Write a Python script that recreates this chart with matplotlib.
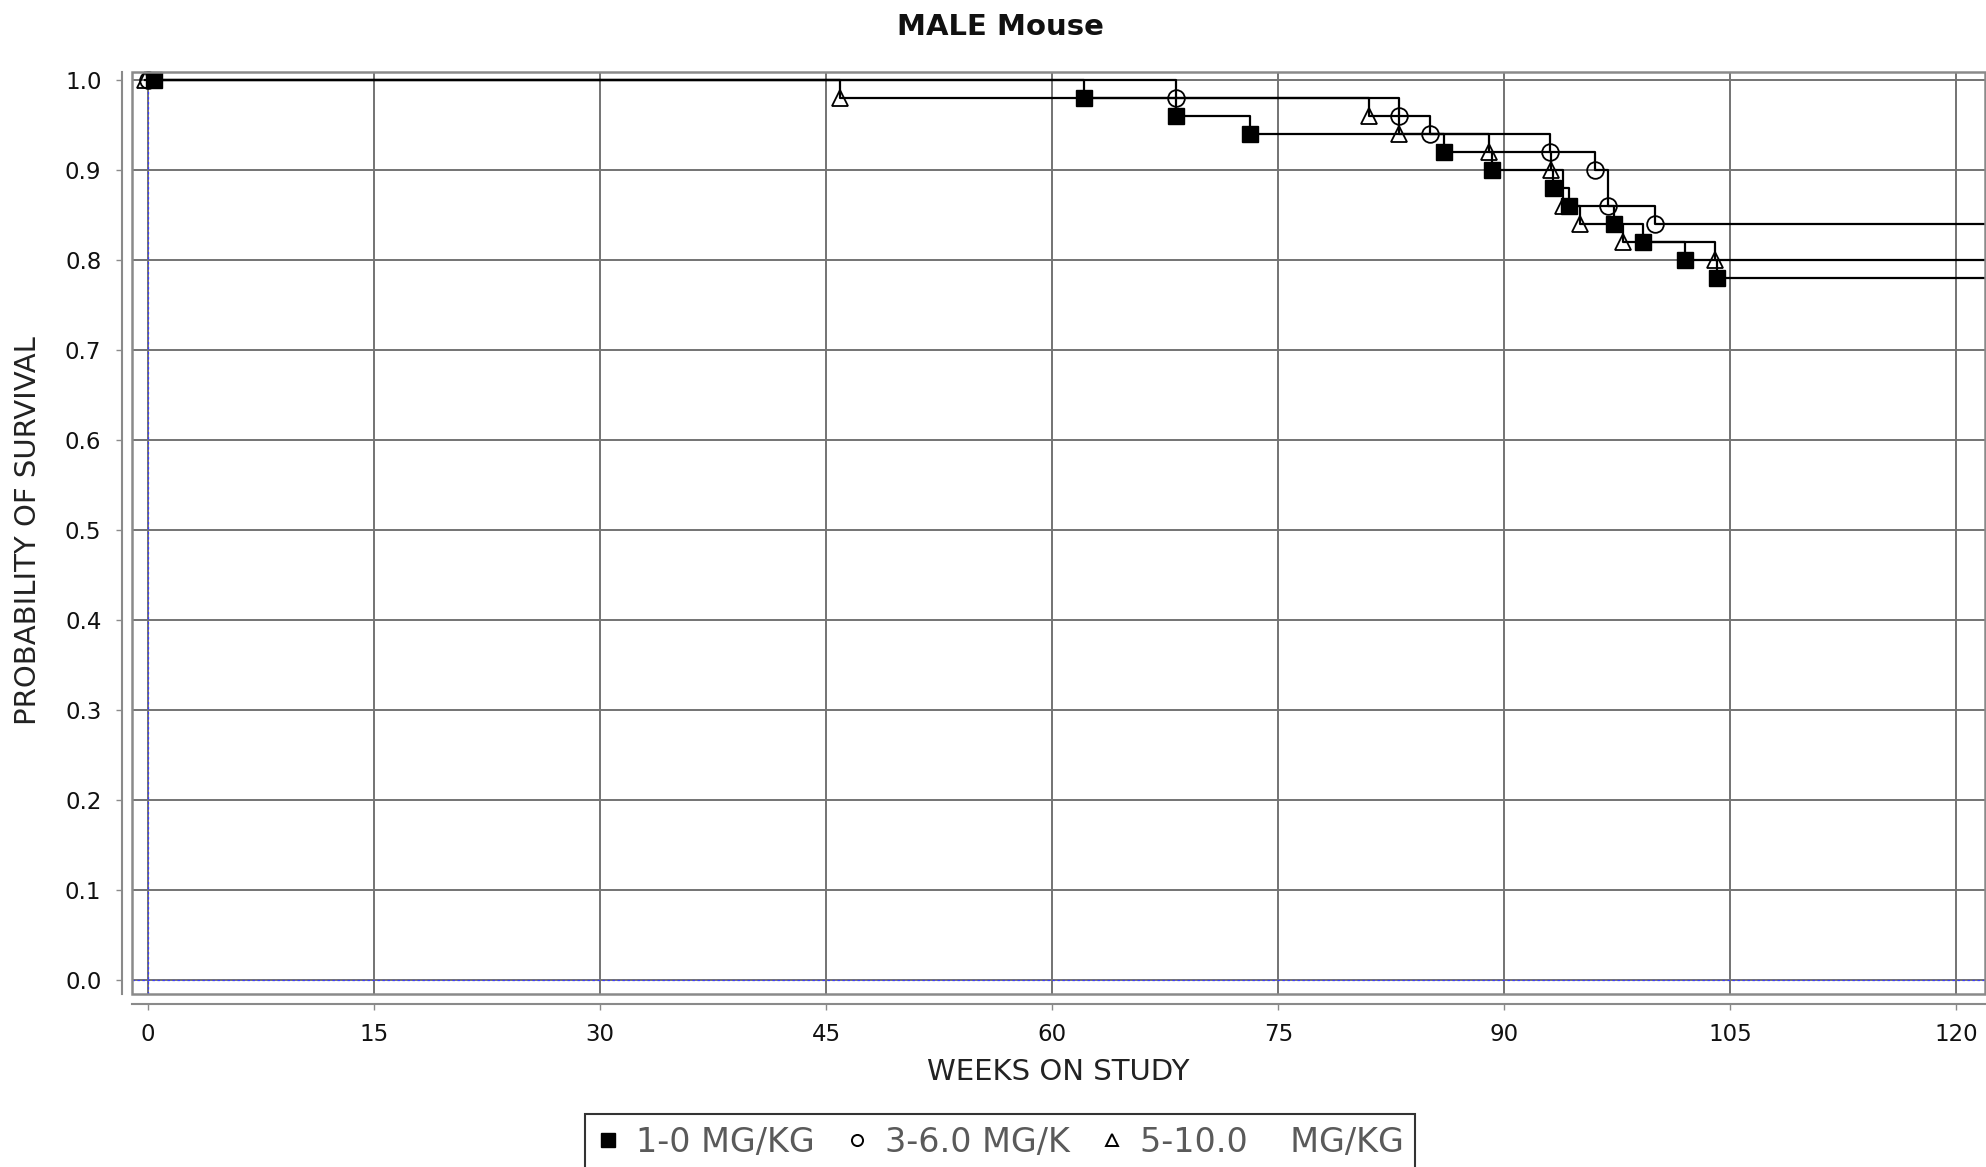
import matplotlib
matplotlib.use("Agg")
import matplotlib.pyplot as plt
from matplotlib.lines import Line2D
from matplotlib.patches import Rectangle

# ---------------- data ----------------
title = "MALE Mouse"
x_label = "WEEKS ON STUDY"
y_label = "PROBABILITY OF SURVIVAL"
x_ticks = [0, 15, 30, 45, 60, 75, 90, 105, 120]
y_ticks = [0.0, 0.1, 0.2, 0.3, 0.4, 0.5, 0.6, 0.7, 0.8, 0.9, 1.0]

labels = ["1-0 MG/KG", "3-6.0 MG/K", "5-10.0    MG/KG"]

weeks_1 = [0.4, 62.1, 68.2, 73.1, 86.0, 89.2, 93.2, 94.3, 97.3, 99.2, 102.0, 104.1]
surv_1 = [1.00, 0.98, 0.96, 0.94, 0.92, 0.90, 0.88, 0.86, 0.84, 0.82, 0.80, 0.78]

weeks_3 = [0.0, 68.2, 83.0, 85.1, 93.0, 96.0, 96.9, 100.0]
surv_3 = [1.00, 0.98, 0.96, 0.94, 0.92, 0.90, 0.86, 0.84]

weeks_5 = [-0.2, 45.9, 81.0, 83.0, 89.0, 93.1, 93.9, 95.0, 97.9, 104.0]
surv_5 = [1.00, 0.98, 0.96, 0.94, 0.92, 0.90, 0.86, 0.84, 0.82, 0.80]

# ---------------- figure ----------------
W, H = 1986, 1167
fig = plt.figure(figsize=(W / 100, H / 100), dpi=100)
plt.rcParams['font.family'] = ['DejaVu Sans']

L, R, T, B = 132, 1985, 72, 994
ax = fig.add_axes([L / W, 1 - B / H, (R - L) / W, (B - T) / H])

px_per_week = 15.07
x0_px = 148
ax.set_xlim((L - x0_px) / px_per_week, (R - x0_px) / px_per_week)
ax.set_ylim(-(B - 980) / 900, 1 + (80 - T) / 900)

grid_c = '#737373'
ax.set_xticks(x_ticks)
ax.set_yticks(y_ticks)
ax.set_xticklabels([str(v) for v in x_ticks])
ax.set_yticklabels([f"{v:.1f}" for v in y_ticks])
ax.grid(True, color=grid_c, lw=1.4)
ax.set_axisbelow(True)

for s in ['top', 'right']:
    ax.spines[s].set_visible(False)
for s in ['left', 'bottom']:
    ax.spines[s].set_position(('outward', 7))
    ax.spines[s].set_color('#8a8a8a')
    ax.spines[s].set_linewidth(1.5)

ax.add_patch(Rectangle((0, 0), 1, 1, transform=ax.transAxes, fill=False,
                       edgecolor='#8a8a8a', lw=1.8, clip_on=False, zorder=5))

ax.tick_params(axis='both', direction='out', length=4.5, width=1.0,
               color='#8a8a8a', labelsize=16.5, labelcolor='#111111')
ax.tick_params(axis='y', pad=10.5)
ax.tick_params(axis='x', pad=9.5)

# zero baselines
ax.axvline(0, color='#3c3cff', lw=0.9, ls=(0, (2, 2)), zorder=2)
ax.axhline(0, color='#3c3cff', lw=0.9, ls=(0, (2, 2)), zorder=2)

xmax = ax.get_xlim()[1]
series = [
    (weeks_5, surv_5, dict(marker='^', ms=12, mfc='none', mec='black', mew=1.3)),
    (weeks_3, surv_3, dict(marker='o', ms=12, mfc='none', mec='black', mew=1.3)),
    (weeks_1, surv_1, dict(marker='s', ms=11.5, mfc='black', mec='black', mew=1.0)),
]
for wk, sv, mk in series:
    ax.step(list(wk) + [xmax], list(sv) + [sv[-1]], where='post',
            color='black', lw=1.6, zorder=3, clip_on=True)
for wk, sv, mk in series:
    ax.plot(wk, sv, ls='none', zorder=4, clip_on=False, **mk)

ax.set_xlabel(x_label, fontsize=21, color='#222222', va='center')
ax.xaxis.set_label_coords(0.5, -(1072 - B) / (B - T))
ax.set_ylabel(y_label, fontsize=21, color='#222222', va='center')
ax.yaxis.set_label_coords((28 - L) / (R - L), (B - 531) / (B - T))

fig.text(1000 / W, 1 - 27 / H, title, fontsize=21, fontweight='bold',
         ha='center', va='center', color='#111111')

handles = [
    Line2D([], [], ls='none', marker='s', ms=10, mfc='black', mec='black'),
    Line2D([], [], ls='none', marker='o', ms=8, mfc='none', mec='black', mew=1.4),
    Line2D([], [], ls='none', marker='^', ms=9, mfc='none', mec='black', mew=1.4),
]
leg = fig.legend(handles, labels, loc='upper center',
                 bbox_to_anchor=(1000 / W, 1 - 1114 / H), ncol=3,
                 frameon=True, fancybox=False, edgecolor='black',
                 fontsize=24, handlelength=0.7, handletextpad=0.5,
                 columnspacing=0.9, borderpad=0.35, borderaxespad=0.0)
leg.get_frame().set_linewidth(1.5)
for t in leg.get_texts():
    t.set_color('#5a5a5a')

fig.savefig("out.png", dpi=100)
